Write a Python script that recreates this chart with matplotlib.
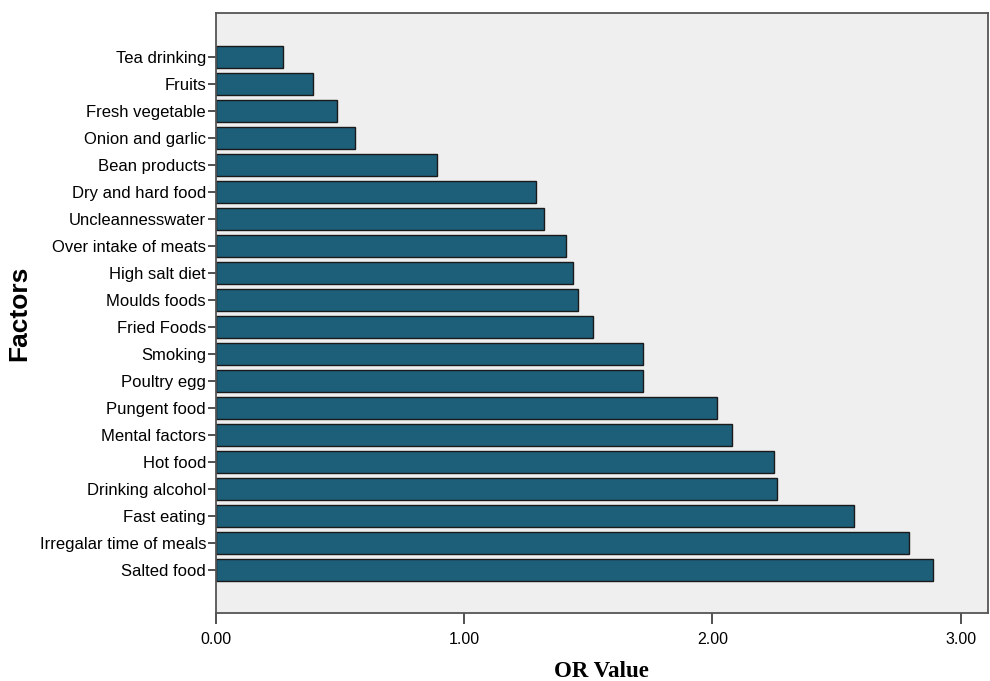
import matplotlib
import matplotlib.pyplot as plt
from matplotlib.ticker import FormatStrFormatter

matplotlib.use('agg')

factors = [
    "Tea drinking", "Fruits", "Fresh vegetable", "Onion and garlic", "Bean products",
    "Dry and hard food", "Uncleannesswater", "Over intake of meats", "High salt diet",
    "Moulds foods", "Fried Foods", "Smoking", "Poultry egg", "Pungent food",
    "Mental factors", "Hot food", "Drinking alcohol", "Fast eating",
    "Irregalar time of meals", "Salted food",
]
or_values = [
    0.27, 0.39, 0.49, 0.56, 0.89, 1.29, 1.32, 1.41, 1.44, 1.46,
    1.52, 1.72, 1.72, 2.02, 2.08, 2.25, 2.26, 2.57, 2.79, 2.89,
]
x_ticks = [0, 1, 2, 3]

plt.rcParams['font.family'] = ['Liberation Sans', 'DejaVu Sans']

fig = plt.figure(figsize=(9.9, 6.81), dpi=100)
ax = fig.add_axes([0.218, 0.0999, 0.78, 0.881])
ax.set_facecolor('#efefef')

pos = list(range(len(factors)))
ax.barh(pos, or_values, height=0.82, color='#1d5e79', edgecolor='#1a1a1a', linewidth=1.0)

ax.set_ylim(len(factors) - 1 + 1.6, -1.63)
ax.set_xlim(0, 3.11)
ax.set_yticks(pos)
ax.set_yticklabels(factors, fontsize=12)
ax.set_xticks(x_ticks)
ax.xaxis.set_major_formatter(FormatStrFormatter('%.2f'))
ax.tick_params(axis='x', labelsize=11.5, length=8, width=1.2, color='#333333', pad=6)
ax.tick_params(axis='y', length=6, width=1.2, color='#333333', pad=1)

for side in ['left', 'bottom', 'top', 'right']:
    ax.spines[side].set_color('#555555')
    ax.spines[side].set_linewidth(1.3)

ax.set_ylabel('Factors', fontsize=19, fontweight='bold', labelpad=6)
ax.set_xlabel('OR Value', fontsize=16.5, fontweight='bold', family=['Liberation Serif'], labelpad=10)

plt.savefig('out.png', dpi=100)
plt.close()
